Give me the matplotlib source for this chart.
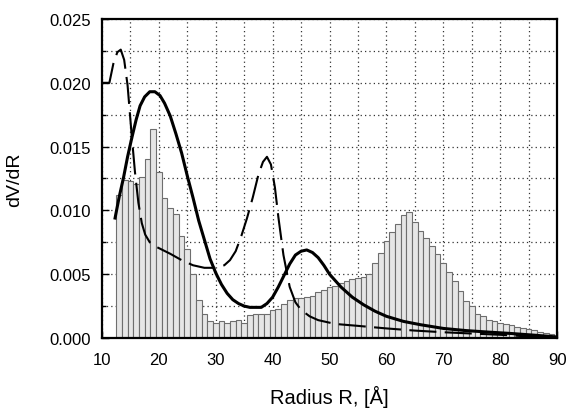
import numpy as np
import matplotlib
matplotlib.use("Agg")
import matplotlib.pyplot as plt
from matplotlib.ticker import MultipleLocator

plt.rcParams['font.family'] = ['Liberation Sans', 'DejaVu Sans']

# histogram, bar centres (radius, A) and heights
bar_r = list(range(13, 90))
bar_h = [0.0112, 0.0124, 0.0123, 0.0121, 0.0126, 0.0140, 0.0164, 0.0130, 0.0110, 0.0102,
         0.0097, 0.0080, 0.0070, 0.0050, 0.0030, 0.0019, 0.0013, 0.0012, 0.0013, 0.0012,
         0.0013, 0.0014, 0.0012, 0.0018, 0.0019, 0.0019, 0.0019, 0.0022, 0.0023, 0.0027,
         0.0030, 0.0031, 0.0031, 0.0032, 0.0033, 0.0036, 0.0038, 0.0040, 0.0041, 0.0043,
         0.0045, 0.0046, 0.0047, 0.0048, 0.0050, 0.0059, 0.0067, 0.0076, 0.0083, 0.0089,
         0.0096, 0.0099, 0.0091, 0.0084, 0.0078, 0.0072, 0.0066, 0.0059, 0.0052, 0.0045,
         0.0037, 0.0029, 0.0025, 0.0019, 0.0017, 0.0014, 0.0013, 0.0012, 0.0011, 0.0010,
         0.0009, 0.0008, 0.0007, 0.0006, 0.0005, 0.0004, 0.0003]

# solid curve
solid_r = [12.3, 13.0, 13.8, 14.5, 15.2, 16.0, 16.7, 17.5, 18.4, 19.3, 20.2, 21.0, 22.0,
           23.0, 24.0, 25.0, 26.0, 27.0, 28.0, 29.0, 30.0, 31.0, 32.0, 33.0, 34.0, 35.0,
           36.0, 37.0, 38.0, 39.0, 40.0, 41.0, 42.0, 43.0, 44.0, 45.0, 46.0, 47.0, 48.0,
           49.0, 50.0, 52.0, 54.0, 56.0, 58.0, 60.0, 63.0, 66.0, 70.0, 74.0, 78.0, 82.0,
           86.0, 90.0]
solid_v = [0.0094, 0.0110, 0.0126, 0.0142, 0.0156, 0.0171, 0.0182, 0.0189, 0.0193, 0.0193,
           0.0190, 0.0184, 0.0174, 0.0160, 0.0145, 0.0127, 0.0110, 0.0092, 0.0077, 0.0062,
           0.0051, 0.0042, 0.0035, 0.0030, 0.0027, 0.0025, 0.0024, 0.0024, 0.0024, 0.0027,
           0.0032, 0.0040, 0.0049, 0.0058, 0.0065, 0.0068, 0.0069, 0.0067, 0.0063, 0.0057,
           0.0050, 0.0040, 0.0032, 0.0026, 0.0021, 0.0017, 0.0013, 0.00104, 0.00075, 0.00058,
           0.00046, 0.00035, 0.00022, 0.00008]

# dashed curve
dash_r = [10.1, 11.3, 12.0, 12.7, 13.3, 13.9, 14.5, 15.2, 15.8, 16.4, 17.0, 17.6, 18.4, 19.3,
          20.2, 22.0, 24.0, 26.0, 28.0, 30.0, 31.5, 32.5, 33.5, 34.5, 35.5, 36.5, 37.5,
          38.3, 39.0, 39.7, 40.4, 41.0, 41.9, 43.0, 44.0, 45.0, 46.5, 48.0, 51.0, 55.0,
          60.0, 65.0, 70.0, 75.0, 80.0, 85.0, 90.0]
dash_v = [0.0200, 0.0200, 0.0215, 0.0224, 0.0226, 0.0218, 0.0198, 0.0160, 0.0130, 0.0106, 0.0090,
          0.0081, 0.0075, 0.0072, 0.0070, 0.0066, 0.0061, 0.0057, 0.0055, 0.0055, 0.0057,
          0.0061, 0.0068, 0.0080, 0.0094, 0.0110, 0.0128, 0.0138, 0.0142, 0.0136, 0.0118,
          0.0095, 0.0065, 0.0040, 0.0028, 0.0022, 0.0017, 0.0014, 0.0011, 0.00095, 0.00075,
          0.00058, 0.00045, 0.00035, 0.00025, 0.00012, 0.0]

fig = plt.figure(figsize=(5.71, 4.10), dpi=100)
ax = fig.add_axes([0.1786, 0.1732, 0.797, 0.778])

ax.bar(bar_r, bar_h, width=1.0, color='#e6e6e6', edgecolor='#6e6e6e', linewidth=0.8, zorder=2)
ax.plot(solid_r, solid_v, color='black', lw=2.2, zorder=4)
ax.plot(dash_r, dash_v, color='black', lw=1.5, linestyle=(0, (13, 4)), zorder=3)

ax.set_xlim(10, 90)
ax.set_ylim(0, 0.025)
ax.xaxis.set_major_locator(MultipleLocator(10))
ax.xaxis.set_minor_locator(MultipleLocator(5))
ax.yaxis.set_major_locator(MultipleLocator(0.005))
ax.yaxis.set_minor_locator(MultipleLocator(0.0025))
ax.yaxis.set_major_formatter(plt.FuncFormatter(lambda v, p: '%.3f' % v))

ax.set_axisbelow(True)
ax.grid(True, which='both', linestyle=(0, (1, 2.5)), color='#333333', linewidth=0.9)
ax.tick_params(which='both', direction='in', labelsize=12, width=1)
ax.tick_params(which='major', length=5)
ax.tick_params(which='minor', length=3)
ax.tick_params(axis='x', pad=10)
ax.tick_params(axis='y', pad=8)
for s in ax.spines.values():
    s.set_linewidth(1.6)

ax.set_xlabel('Radius R, [Å]', fontsize=14.5)
ax.set_ylabel('dV/dR', fontsize=14)
ax.xaxis.set_label_coords(0.5, -0.148)
ax.yaxis.set_label_coords(-0.173, 0.5)

fig.savefig('out.png', dpi=100)
